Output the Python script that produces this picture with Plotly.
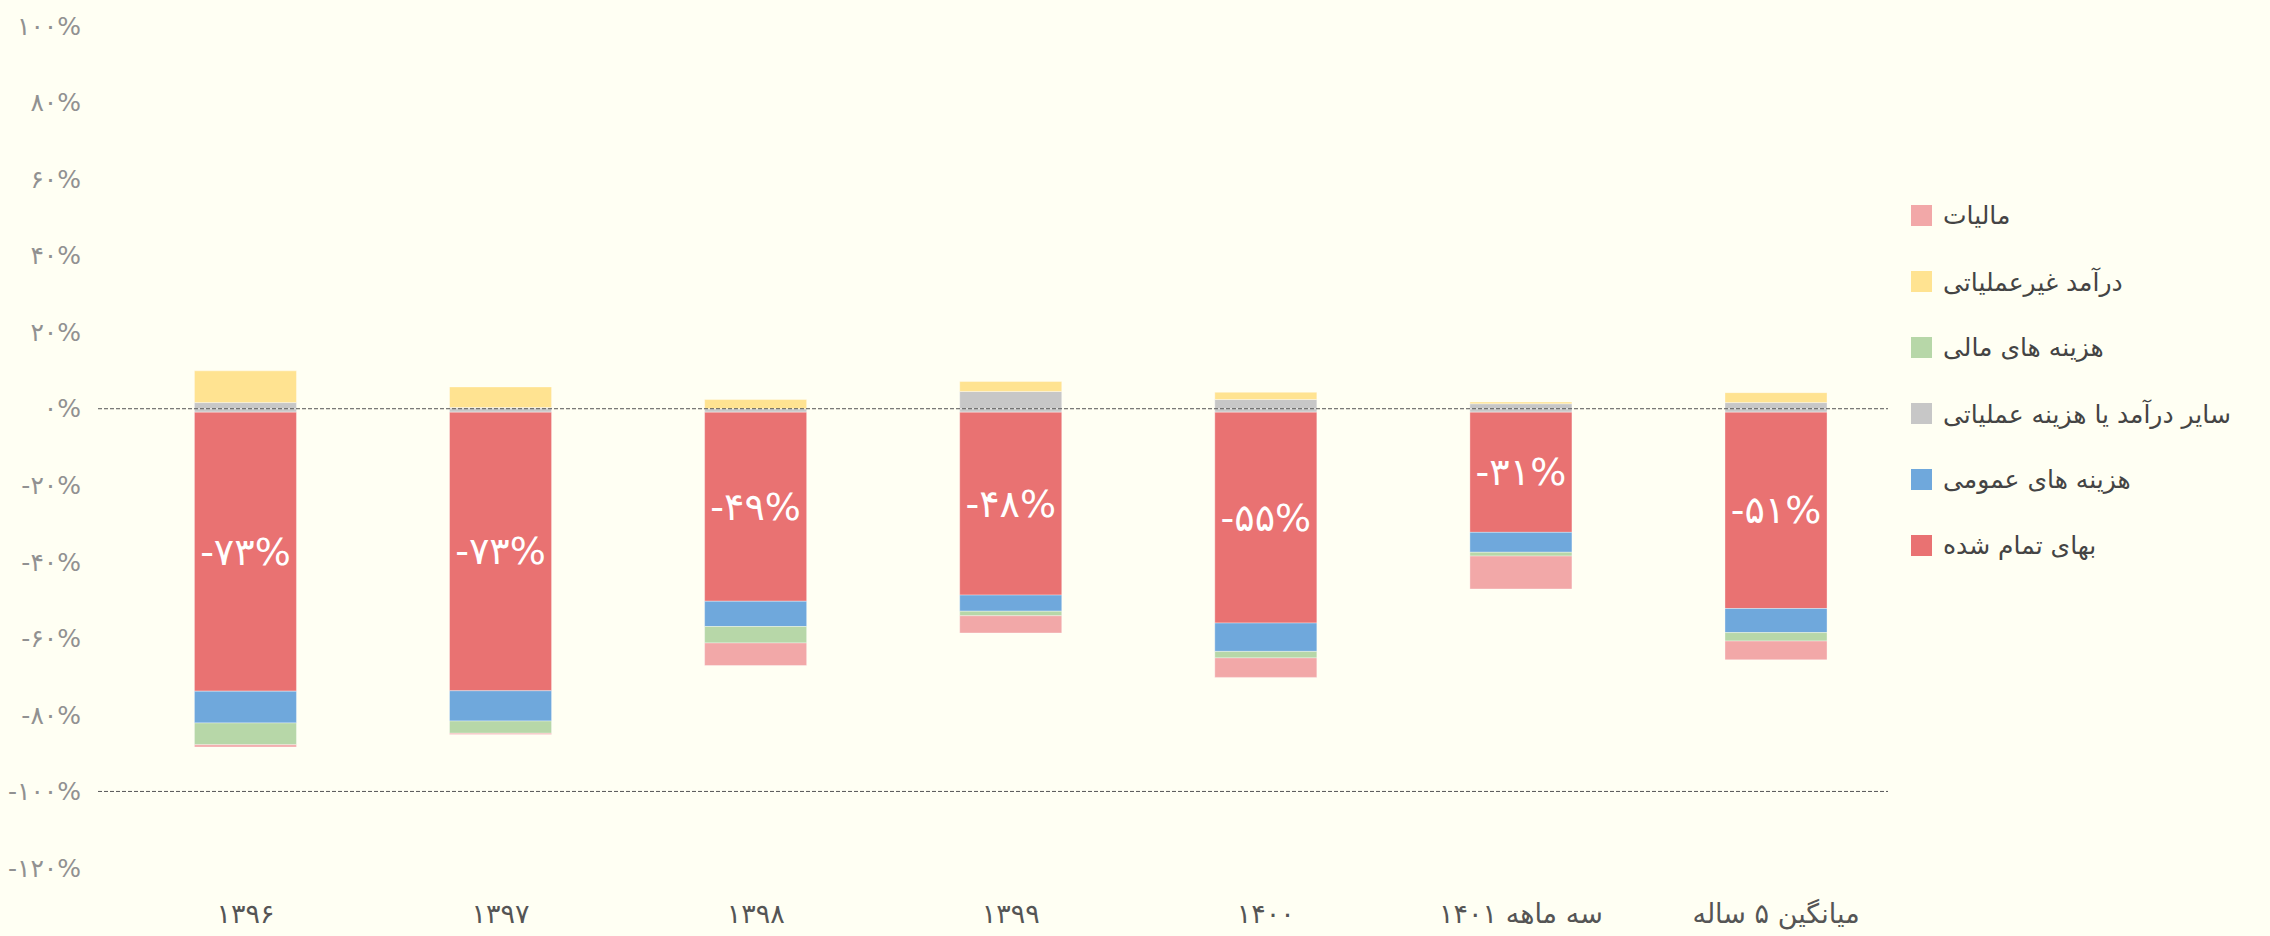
import plotly.graph_objects as go

# ---------------- data ----------------
categories = ["۱۳۹۶", "۱۳۹۷", "۱۳۹۸", "۱۳۹۹", "۱۴۰۰", "سه ماهه ۱۴۰۱", "میانگین ۵ ساله"]

cost_of_sales = [-72.9, -72.8, -49.4, -47.8, -55.1, -31.4, -51.3]      # بهای تمام شده
general_exp = [-8.3, -7.9, -6.6, -4.2, -7.4, -5.2, -6.3]               # هزینه های عمومی
other_op_pos = [1.6, 0.3, 0.0, 4.5, 2.4, 1.3, 1.6]                     # سایر درآمد یا هزینه عملیاتی (+)
other_op_neg = [-0.9, -0.9, -0.9, -0.9, -0.9, -0.9, -0.9]              # سایر درآمد یا هزینه عملیاتی (-)
financial_exp = [-5.7, -3.2, -4.3, -1.2, -1.7, -1.0, -2.2]             # هزینه های مالی
non_op_income = [8.3, 5.4, 2.4, 2.6, 1.9, 0.45, 2.6]                   # درآمد غیرعملیاتی
tax = [-0.6, -0.3, -5.9, -4.5, -5.1, -8.6, -4.9]                       # مالیات

cost_labels = ["-۷۳%", "-۷۳%", "-۴۹%", "-۴۸%", "-۵۵%", "-۳۱%", "-۵۱%"]

tick_values = [100, 80, 60, 40, 20, 0, -20, -40, -60, -80, -100, -120]
tick_labels = ["۱۰۰%", "۸۰%", "۶۰%", "۴۰%", "۲۰%", "۰%", "-۲۰%", "-۴۰%",
               "-۶۰%", "-۸۰%", "-۱۰۰%", "-۱۲۰%"]

ref_lines = [0, -100]

names = {
    "cost": "بهای تمام شده",
    "general": "هزینه های عمومی",
    "other": "سایر درآمد یا هزینه عملیاتی",
    "fin": "هزینه های مالی",
    "nonop": "درآمد غیرعملیاتی",
    "tax": "مالیات",
}
colors = {
    "cost": "#E97272",
    "general": "#6FA8DC",
    "other": "#C7C7C7",
    "fin": "#B7D7A8",
    "nonop": "#FFE391",
    "tax": "#F2A8A8",
}
legend_order = ["tax", "nonop", "fin", "other", "general", "cost"]

# ---------------- figure ----------------
FONT = "DejaVu Sans"
BG = "#FFFFF3"
edge = dict(width=1, color="rgba(255,255,255,0.35)")

fig = go.Figure()

def add_bar(key, values, **kw):
    fig.add_trace(go.Bar(
        x=categories, y=values, name=names[key],
        marker=dict(color=colors[key], line=edge),
        width=0.4, showlegend=False, legendgroup=key,
        hoverinfo="x+y+name", **kw))

add_bar("other", other_op_neg)
add_bar("cost", cost_of_sales, text=cost_labels, textposition="inside",
        insidetextanchor="middle", textangle=0,
        textfont=dict(family=FONT, size=38, color="white"))
add_bar("general", general_exp)
add_bar("fin", financial_exp)
add_bar("tax", tax)
add_bar("other", other_op_pos)
add_bar("nonop", non_op_income)

for v in ref_lines:
    fig.add_shape(type="line", xref="paper", x0=0, x1=1, yref="y", y0=v, y1=v,
                  line=dict(color="#555555", width=1, dash="4px,2px"), layer="above")

# custom legend (large square swatches, like the reference)
W, H = 2270, 936
L, R, T, B = 98, 382, 26, 68
plot_h = H - T - B
plot_w = W - L - R
first_center, step = 215.5, 66
for i, key in enumerate(legend_order):
    yc = first_center + i * step
    ypaper = (H - B - yc) / plot_h
    fig.add_shape(type="rect", xref="paper", yref="paper",
                  xsizemode="pixel", ysizemode="pixel",
                  xanchor=1, yanchor=ypaper,
                  x0=23, x1=44, y0=-10.5, y1=10.5,
                  fillcolor=colors[key], line=dict(width=0))
    fig.add_annotation(xref="paper", yref="paper",
                       x=1 + 53 / plot_w, y=ypaper, xanchor="left", yanchor="middle",
                       text=names[key], showarrow=False,
                       font=dict(family=FONT, size=25, color="#444444"))

fig.update_layout(
    width=W, height=H, autosize=False,
    barmode="relative",
    paper_bgcolor=BG, plot_bgcolor=BG,
    margin=dict(l=L, r=R, t=T, b=B, pad=0),
    showlegend=False,
    font=dict(family=FONT),
    xaxis=dict(type="category", range=[-0.578, 6.439], showgrid=False,
               zeroline=False, showline=False, ticks="", automargin=False,
               tickfont=dict(family=FONT, size=27, color="#555555"),
               ticklabelstandoff=27),
    yaxis=dict(range=[-120, 100], tickvals=tick_values, ticktext=tick_labels,
               showgrid=False, zeroline=False, showline=False, ticks="",
               automargin=False,
               tickfont=dict(family=FONT, size=25, color="#919191"),
               ticklabelstandoff=16),
)

fig.write_html(
    "out.html",
    config={"displayModeBar": False},
    post_script="document.body.style.margin='0';document.body.style.background='%s';" % BG,
)
